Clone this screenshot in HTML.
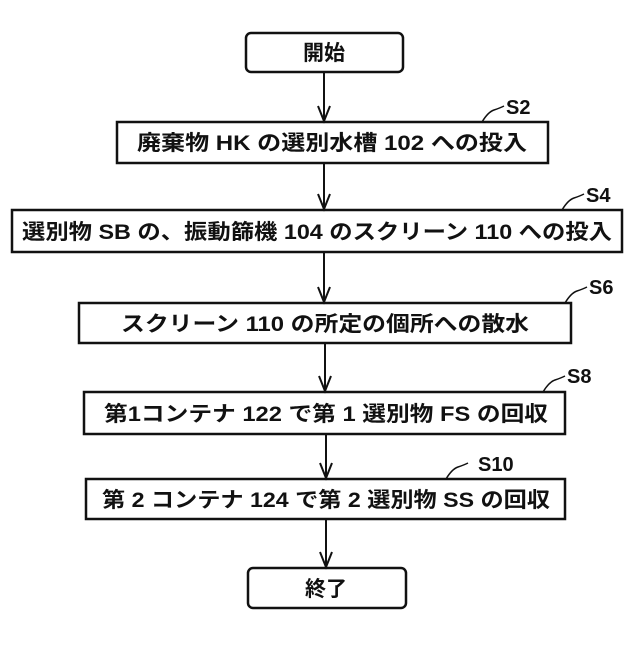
<!DOCTYPE html>
<html><head><meta charset="utf-8"><style>
html,body{margin:0;padding:0;background:#fff;}
svg text{font-family:"Liberation Sans","Noto Sans CJK JP",sans-serif;font-weight:bold;fill:#111;}
</style></head><body>
<svg width="640" height="640" viewBox="0 0 640 640" xmlns="http://www.w3.org/2000/svg">
<g fill="none" stroke="#111" stroke-width="2.5">
<rect x="246" y="33" width="157" height="39" rx="5"/>
<rect x="117" y="122" width="431" height="41"/>
<rect x="12" y="210" width="610" height="42"/>
<rect x="79" y="303" width="492" height="40"/>
<rect x="84" y="392" width="481" height="42"/>
<rect x="86" y="479" width="479" height="40"/>
<rect x="248" y="568" width="158" height="40" rx="5"/>
</g>
<g stroke="#111" stroke-width="2" fill="none">
<line x1="324" y1="72" x2="324" y2="121"/><path d="M318,106 L324,121 L330,106"/>
<line x1="324" y1="163" x2="324" y2="209"/><path d="M318,194 L324,209 L330,194"/>
<line x1="324" y1="252" x2="324" y2="302"/><path d="M318,287 L324,302 L330,287"/>
<line x1="325" y1="343" x2="325" y2="391"/><path d="M319,376 L325,391 L331,376"/>
<line x1="326" y1="434" x2="326" y2="478"/><path d="M320,463 L326,478 L332,463"/>
<line x1="326" y1="519" x2="326" y2="567"/><path d="M320,552 L326,567 L332,552"/>
</g>
<g fill="none" stroke="#111" stroke-width="1.5">
<path d="M482,122 q6,-10 12,-12 q6,-2 10,-4"/>
<path d="M562,210 q6,-10 12,-12 q6,-2 10,-4"/>
<path d="M565,303 q6,-10 12,-12 q6,-2 10,-4"/>
<path d="M543,392 q6,-10 12,-12 q6,-2 10,-4"/>
<path d="M446,479 q6,-10 12,-12 q6,-2 10,-4"/>
</g>
<g font-size="20">
<text x="506" y="114">S2</text>
<text x="586" y="202">S4</text>
<text x="589" y="294">S6</text>
<text x="567" y="383">S8</text>
<text x="478" y="471">S10</text>
</g>
<g font-size="21" text-anchor="middle">
<text x="324" y="60">開始</text>
<text x="332" y="150" textLength="390" lengthAdjust="spacingAndGlyphs">廃棄物 HK の選別水槽 102 への投入</text>
<text x="317" y="239" textLength="590" lengthAdjust="spacingAndGlyphs">選別物 SB の、振動篩機 104 のスクリーン 110 への投入</text>
<text x="325" y="331" textLength="408" lengthAdjust="spacingAndGlyphs">スクリーン 110 の所定の個所への散水</text>
<text x="326" y="421" textLength="444" lengthAdjust="spacingAndGlyphs">第1コンテナ 122 で第 1 選別物 FS の回収</text>
<text x="326" y="507" textLength="448" lengthAdjust="spacingAndGlyphs">第 2 コンテナ 124 で第 2 選別物 SS の回収</text>
<text x="326" y="596">終了</text>
</g>
</svg>
</body></html>
